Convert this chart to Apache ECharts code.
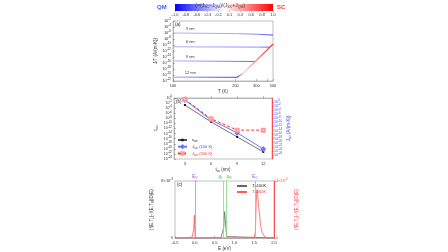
<!DOCTYPE html>
<html>
<head>
<meta charset="utf-8">
<script src="https://cdn.jsdelivr.net/npm/echarts@6/dist/echarts.min.js"></script>
<style>
html, body { margin: 0; padding: 0; background: #fff; }
#chart { width: 448px; height: 252px; }
</style>
</head>
<body>
<div id="chart"></div>
<script>
// ---- colour bar (zeta) ----
var zetaRange = [-1, 1]
var zetaTicks = [-1, -0.778, -0.556, -0.333, -0.111, 0.111, 0.333, 0.556, 0.778, 1]

// ---- (a) J/T vs T, points are [T (K), log10(J/T), zeta] ----
var tempTicks = [100, 200, 300, 400, 500]
var tempLabels = [100, 200, 300, 500]
var thickNames = ['3 nm', '6 nm', '9 nm', '12 nm']
var jt3 = [[100, -6.0, -0.3], [200, -6.2, -0.35], [300, -6.4, -0.5], [500, -6.7, -0.75]]
var jt6 = [[100, -10.6, -0.3], [300, -10.7, -0.45], [444, -10.7, -0.7]]
var jt9 = [[100, -15.3, -0.3], [291, -15.5, -0.6]]
var jt12 = [[100, -20.7, -0.3], [205, -20.8, -0.6], [227, -19.5, 0.15], [500, -9.7, 0.95]]

// ---- (b) vs oxide thickness (log10 values) ----
var tox = [3, 6, 9, 12]
var tauTun = [-2.75, -9.4, -15.3, -21.2]
var jTun100 = [1.0, -8.8, -15.1, -23.1]
var jTun300 = [1.3, -8.2, -13.8, -13.8]

// ---- (c) spectra [E (eV), value] ----
var bandEv = 0.0
var bandEc = 1.52
var muL = 0.72
var muR = 0.80
var spec100 = [[-0.5, 0], [0.66, 0], [0.70, 0.2], [0.73, 1.5], [0.75, 3.7], [0.77, 2.6], [0.79, 1.0], [0.81, 0.2], [0.84, 0], [2.0, 0]]
var spec300 = [[-0.5, 0], [-0.2, 0], [-0.14, 0.05], [-0.1, 0.12], [-0.07, 0.05], [-0.05, 0.3], [-0.03, 0.6], [-0.02, 1.0], [-0.01, 1.6], [0.0, 0.4], [0.01, 0],
  [1.49, 0], [1.51, 0.2], [1.53, 0.4], [1.55, 2.5], [1.57, 3.4], [1.59, 3.0], [1.61, 2.2], [1.63, 1.8], [1.66, 0.9], [1.70, 0.4], [1.76, 0.1], [1.85, 0], [2.0, 0]]

var font = 'Liberation Sans'
var chart = echarts.init(document.getElementById('chart'))

function invT (t) { return -1000 / t }
function zetaColor (z) {
    var c = Math.round(255 * (1 - Math.abs(z)))
    return z < 0 ? 'rgb(' + c + ',' + c + ',255)' : 'rgb(255,' + c + ',' + c + ')'
}
// line coloured along x by its zeta values
function zetaLine (pts) {
    var x0 = invT(pts[0][0]), x1 = invT(pts[pts.length - 1][0])
    var stops = pts.map(function (p) {
        return { offset: (invT(p[0]) - x0) / (x1 - x0), color: zetaColor(p[2]) }
    })
    return new echarts.graphic.LinearGradient(0, 0, 1, 0, stops)
}
function pow10 (v) { return '10{s|' + v + '}' }
var powRich = { s: { fontSize: 3, padding: [0, 0, 3, 0] } }
var labelBase = { fontSize: 4, color: '#333', fontFamily: font }

var aSeries = [jt3, jt6, jt9, jt12].map(function (pts, i) {
    return {
        type: 'line', xAxisIndex: 1, yAxisIndex: 1, symbol: 'none',
        data: pts.map(function (p) { return [invT(p[0]), p[1]] }),
        lineStyle: { width: i == 3 ? 1.3 : 1, color: zetaLine(pts) },
        markPoint: {
            symbol: 'circle', symbolSize: 0, silent: true,
            label: { show: true, formatter: '{b}', fontSize: 4, color: '#333', fontFamily: font },
            data: [{ name: thickNames[i], coord: [invT(116), pts[0][1] + 1.5] }]
        }
    }
})

var supLegend = { sub: { fontSize: 3, padding: [3, 0, 0, 0] } }

var option = {
    animation: false,
    textStyle: { fontFamily: font },
    title: {
        text: 'ζ=(J{s|SC}−J{s|QM})/(J{s|SC}+J{s|QM})',
        left: 190, top: -3,
        textStyle: { fontSize: 5, fontWeight: 'normal', color: '#444', rich: { s: { fontSize: 3.5, padding: [3, 0, 0, 0], color: '#444' } } }
    },
    graphic: [
        { type: 'text', left: 157, top: 4, style: { text: 'QM', fill: '#3a5cff', font: 'bold 6px ' + font } },
        { type: 'text', left: 277, top: 4, style: { text: 'SC', fill: '#ff3b3b', font: 'bold 6px ' + font } },
        { type: 'text', left: 175, top: 22, style: { text: '(a)', fill: '#222', font: '4.5px ' + font } },
        { type: 'text', left: 176, top: 99, style: { text: '(b)', fill: '#222', font: '4.5px ' + font } },
        { type: 'text', left: 177, top: 182, style: { text: '(c)', fill: '#222', font: '4.5px ' + font } }
    ],
    legend: [{
        left: 177, top: 138, orient: 'vertical', padding: 0,
        itemWidth: 9, itemHeight: 3, itemGap: 1.5,
        textStyle: { fontSize: 4, rich: supLegend },
        formatter: function (n) {
            return { tau: 'τ{sub|tun}', j100: 'J{sub|tun} (100 K)', j300: 'J{sub|tun} (300 K)' }[n]
        },
        data: [
            { name: 'tau', textStyle: { color: '#111' } },
            { name: 'j100', textStyle: { color: '#3b4bff' } },
            { name: 'j300', textStyle: { color: '#ff3030' } }
        ]
    }, {
        left: 236, top: 184, orient: 'vertical', padding: 0,
        itemWidth: 10, itemHeight: 3, itemGap: 2,
        textStyle: { fontSize: 4 },
        data: [
            { name: 'T=100K', textStyle: { color: '#111' } },
            { name: 'T=300K', textStyle: { color: '#ff3030' } }
        ]
    }],
    grid: [
        { left: 175, top: 4, width: 98, height: 7 },
        { left: 173, top: 21, width: 100, height: 60, show: true, borderColor: '#999', borderWidth: 0.6 },
        { left: 174, top: 98, width: 98, height: 61, show: true, borderColor: '#999', borderWidth: 0.6 },
        { left: 175, top: 181, width: 99, height: 59, show: true, borderColor: '#999', borderWidth: 0.6 }
    ],
    xAxis: [{
        gridIndex: 0, type: 'value', min: zetaRange[0], max: zetaRange[1],
        axisLine: { show: false }, splitLine: { show: false },
        axisTick: { show: true, length: 1, customValues: zetaTicks, lineStyle: { color: '#666', width: 0.5 } },
        axisLabel: Object.assign({}, labelBase, { margin: 2, customValues: zetaTicks, formatter: function (v) { return v.toFixed(1) } })
    }, {
        gridIndex: 1, type: 'value', min: invT(100), max: invT(500),
        name: 'T (K)', nameLocation: 'middle', nameGap: 8, nameTextStyle: { fontSize: 4.5, color: '#333' },
        axisLine: { lineStyle: { color: '#999', width: 0.6 } }, splitLine: { show: false },
        axisTick: { length: 2, inside: true, customValues: tempTicks.map(invT), lineStyle: { color: '#777', width: 0.5 } },
        axisLabel: Object.assign({}, labelBase, { margin: 3, customValues: tempLabels.map(invT), formatter: function (v) { return Math.round(-1000 / v) } })
    }, {
        gridIndex: 2, type: 'value', min: 1.75, max: 13,
        name: 't{s|ox} (nm)', nameLocation: 'middle', nameGap: 8,
        nameTextStyle: { fontSize: 4.5, color: '#333', rich: { s: { fontSize: 3, padding: [3, 0, 0, 0] } } },
        axisLine: { lineStyle: { color: '#999', width: 0.6 } }, splitLine: { show: false },
        axisTick: { length: 2, inside: true, customValues: tox, lineStyle: { color: '#777', width: 0.5 } },
        axisLabel: Object.assign({}, labelBase, { margin: 3, customValues: tox })
    }, {
        gridIndex: 3, type: 'value', min: -0.5, max: 2, interval: 0.5,
        name: 'E (eV)', nameLocation: 'middle', nameGap: 8, nameTextStyle: { fontSize: 4.5, color: '#333' },
        axisLine: { lineStyle: { color: '#999', width: 0.6 } }, splitLine: { show: false },
        axisTick: { length: 2, inside: true, lineStyle: { color: '#777', width: 0.5 } },
        axisLabel: Object.assign({}, labelBase, { margin: 3, formatter: function (v) { return v.toFixed(1) } })
    }],
    yAxis: [{
        gridIndex: 0, type: 'value', min: 0, max: 1, show: false
    }, {
        gridIndex: 1, type: 'value', min: -22, max: -2, interval: 2,
        name: 'J/T (A/(m·K))', nameLocation: 'middle', nameGap: 12, nameTextStyle: { fontSize: 4.5, color: '#333' },
        axisLine: { show: true, lineStyle: { color: '#999', width: 0.6 } }, splitLine: { show: false },
        axisTick: { length: 2, inside: true, lineStyle: { color: '#777', width: 0.5 } },
        axisLabel: Object.assign({}, labelBase, { margin: 2, formatter: pow10, rich: powRich })
    }, {
        gridIndex: 2, type: 'value', min: -24, max: 0, interval: 2,
        name: 'τ{s|tun}', nameLocation: 'middle', nameGap: 15,
        nameTextStyle: { fontSize: 4.5, color: '#333', rich: { s: { fontSize: 3, padding: [3, 0, 0, 0] } } },
        axisLine: { show: true, lineStyle: { color: '#999', width: 0.6 } }, splitLine: { show: false },
        axisTick: { length: 2, inside: true, lineStyle: { color: '#777', width: 0.5 } },
        axisLabel: Object.assign({}, labelBase, { fontSize: 3.5, margin: 2, formatter: pow10, rich: powRich })
    }, {
        gridIndex: 2, type: 'value', position: 'right', min: -28, max: 2, interval: 2,
        name: 'J{s|tun} (A/(m·K))', nameLocation: 'middle', nameGap: 13, nameRotate: 90,
        nameTextStyle: { fontSize: 4.5, color: '#3b4bff', rich: { s: { fontSize: 3, padding: [3, 0, 0, 0] } } },
        axisLine: { show: true, lineStyle: { color: '#ff4a4a', width: 1 } }, splitLine: { show: false },
        axisTick: { length: 2, lineStyle: { color: '#ff4a4a', width: 0.6 } },
        axisLabel: Object.assign({}, labelBase, { fontSize: 3.5, color: '#3b4bff', margin: 2, formatter: pow10, rich: powRich })
    }, {
        gridIndex: 3, type: 'value', min: 0, max: 8, interval: 8,
        name: '|f(E,T{s|L})−f(E,T{s|R})|D(E)', nameLocation: 'middle', nameGap: 20,
        nameTextStyle: { fontSize: 4.5, color: '#333', rich: { s: { fontSize: 3, padding: [3, 0, 0, 0] } } },
        axisLine: { show: true, lineStyle: { color: '#999', width: 0.6 } }, splitLine: { show: false },
        axisTick: { length: 2, inside: true, lineStyle: { color: '#777', width: 0.5 } },
        axisLabel: Object.assign({}, labelBase, { margin: 2, formatter: function (v) { return v ? v + '×10{s|-3}' : '0' }, rich: powRich })
    }, {
        gridIndex: 3, type: 'value', position: 'right', min: 0, max: 4, interval: 4,
        name: '|f(E,T{s|L})−f(E,T{s|R})|D(E)', nameLocation: 'middle', nameGap: 20, nameRotate: 90,
        nameTextStyle: { fontSize: 4.5, color: '#ff4040', rich: { s: { fontSize: 3, padding: [3, 0, 0, 0] } } },
        axisLine: { show: true, lineStyle: { color: '#ff4a4a', width: 1 } }, splitLine: { show: false },
        axisTick: { length: 2, lineStyle: { color: '#ff4a4a', width: 0.6 } },
        axisLabel: Object.assign({}, labelBase, { color: '#ff4040', margin: 2, formatter: function (v) { return v ? v + '×10{s|-5}' : '0' }, rich: powRich })
    }],
    series: [{
        type: 'custom', xAxisIndex: 0, yAxisIndex: 0, silent: true,
        data: [[zetaRange[0], zetaRange[1]]],
        encode: { x: [0, 1] },
        renderItem: function (params, api) {
            var p0 = api.coord([api.value(0), 1])
            var p1 = api.coord([api.value(1), 0])
            return {
                type: 'rect',
                shape: { x: p0[0], y: p0[1], width: p1[0] - p0[0], height: p1[1] - p0[1] },
                style: {
                    fill: new echarts.graphic.LinearGradient(0, 0, 1, 0, [
                        { offset: 0, color: zetaColor(zetaRange[0]) },
                        { offset: 0.5, color: zetaColor(0) },
                        { offset: 1, color: zetaColor(zetaRange[1]) }
                    ])
                }
            }
        }
    }].concat(aSeries).concat([{
        name: 'tau', type: 'line', xAxisIndex: 2, yAxisIndex: 2,
        data: tox.map(function (t, i) { return [t, tauTun[i]] }),
        symbol: 'rect', symbolSize: 2,
        lineStyle: { color: '#555', width: 0.8 }, itemStyle: { color: '#111' }
    }, {
        name: 'j100', type: 'line', xAxisIndex: 2, yAxisIndex: 3,
        data: tox.map(function (t, i) { return [t, jTun100[i]] }),
        symbol: 'emptyDiamond', symbolSize: 3,
        lineStyle: { color: '#6a78ff', width: 1 }, itemStyle: { color: '#6a78ff', borderWidth: 0.5 }
    }, {
        name: 'j300', type: 'line', xAxisIndex: 2, yAxisIndex: 3,
        data: tox.map(function (t, i) { return [t, jTun300[i]] }),
        symbol: 'emptyRect', symbolSize: 3,
        lineStyle: { color: '#ff3030', width: 1, type: [3, 2] }, itemStyle: { color: '#ff9a9a', borderWidth: 0.5 }
    }, {
        name: 'T=100K', type: 'line', xAxisIndex: 3, yAxisIndex: 4,
        data: spec100, symbol: 'none',
        lineStyle: { color: '#666', width: 0.8 },
        itemStyle: { color: '#666' },
        markLine: {
            symbol: 'none', silent: true,
            lineStyle: { color: '#7de07d', width: 0.8, type: 'solid' },
            label: { position: 'end', fontSize: 5, color: '#3fcf3f', distance: 1 },
            data: [
                { xAxis: muL, label: { formatter: 'μ{s|L}', align: 'right', rich: { s: { fontSize: 3.5, padding: [3, 0, 0, 0] } } } },
                { xAxis: muR, label: { formatter: 'μ{s|R}', align: 'left', rich: { s: { fontSize: 3.5, padding: [3, 0, 0, 0] } } } }
            ]
        }
    }, {
        name: 'T=300K', type: 'line', xAxisIndex: 3, yAxisIndex: 5,
        data: spec300, symbol: 'none',
        lineStyle: { color: '#ff5a5a', width: 0.8 },
        itemStyle: { color: '#ff5a5a' },
        markLine: {
            symbol: 'none', silent: true,
            lineStyle: { color: '#c79af0', width: 0.8, type: 'solid' },
            label: { position: 'end', fontSize: 5, color: '#a060e0', distance: 1, rich: { s: { fontSize: 3.5, padding: [3, 0, 0, 0] } } },
            data: [
                { xAxis: bandEv, label: { formatter: 'E{s|V}' } },
                { xAxis: bandEc, label: { formatter: 'E{s|C}' } }
            ]
        }
    }])
}
chart.setOption(option)
window.addEventListener('resize', function () {
    chart.resize()
})
</script>
</body>
</html>
